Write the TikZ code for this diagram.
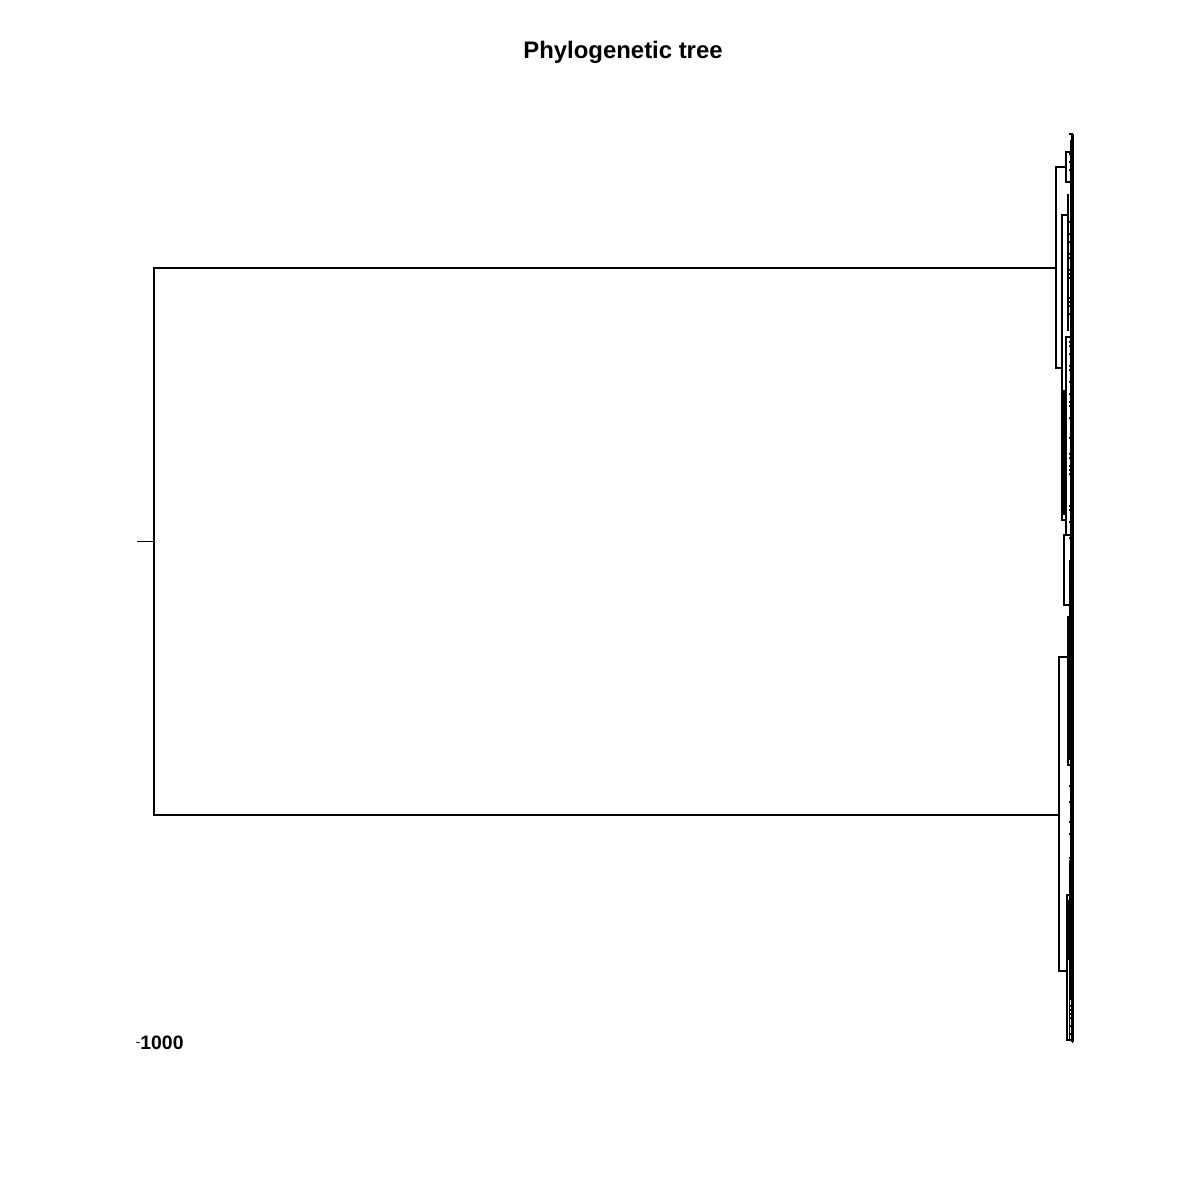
\documentclass[tikz,border=0pt]{standalone}
\usepackage{fontspec}
\setmainfont{Liberation Sans}
\begin{document}
\begin{tikzpicture}[x=0.5pt,y=-0.5pt,
  br/.style={line width=1pt,line cap=rect},
  lf/.style={line width=0.6pt},
  thinline/.style={line width=0.4pt}]
\useasboundingbox (0,0) rectangle (1200,1200);
\fill[white] (0,0) rectangle (1200,1200);
\node[font=\fontsize{11.95}{14}\selectfont\bfseries] (title) at (623,52) {Phylogenetic tree};
% root
\coordinate (stub) at (137,541);
\coordinate (root) at (154,541);
\coordinate (rtop) at (154,268);
\coordinate (rbot) at (154,815);
\coordinate (A) at (1056,268);
\coordinate (B) at (1059,815);
\draw[thinline] (stub) -- (root);
\draw[br] (rtop) -- (rbot);
\draw[br] (rtop) -- (A);
\draw[br] (rbot) -- (B);
% upper clade
\draw[br] (1056,167) -- (1056,368);
\draw[br] (1056,167) -- (1066,167);
\draw[br] (1066,152) -- (1066,182);
\draw[br] (1066,152) -- (1072,152);
\draw[br] (1066,182) -- (1071,182);
\draw[br] (1056,368) -- (1062,368);
\draw[br] (1062,215) -- (1062,520);
\draw[br] (1062,215) -- (1068,215);
\draw[br] (1068,195) -- (1068,330);
\draw[br] (1062,520) -- (1066,520);
\draw[br] (1066,337) -- (1066,535);
\draw[br] (1066,337) -- (1070,337);
\draw[br] (1066,535) -- (1064,535) -- (1064,605) -- (1073,605);
\draw[br] (1064,535) -- (1070,535);
\draw[line width=2pt] (1064,390) -- (1064,515);
% lower clade
\draw[br] (1059,657) -- (1059,971);
\draw[br] (1059,657) -- (1068,657);
\draw[br] (1068,617) -- (1068,765);
\draw[br] (1068,617) -- (1072,617);
\draw[br] (1068,765) -- (1071,765);
\draw[br] (1059,971) -- (1067,971);
\draw[br] (1067,895) -- (1067,1040);
\draw[br] (1067,895) -- (1071,895);
\draw[br] (1067,1040) -- (1072,1040);
\draw[line width=1.6pt] (1069,665) -- (1069,760);
\draw[line width=1.6pt] (1068,900) -- (1068,960);
% dense leaves
\pgfmathsetseed{7}
\draw[line width=1.3pt] (1072.5,134) -- (1072.5,1042);
\foreach \y in {134,138,...,1042}{
  \pgfmathsetmacro\dx{1+rnd*3.5}
  \draw[lf] (1073-\dx,\y) -- (1073,\y);
}
\foreach \a/\b in {140/300,230/420,300/590,560/700,640/860,780/1000,860/1040}{
  \pgfmathsetmacro\xx{1069.5+rnd*1.5}
  \draw[lf] (\xx,\a) -- (\xx,\b);
}
% scale
\coordinate (tick) at (136,1042);
\node[anchor=west,inner sep=0pt,font=\fontsize{9.7}{11}\selectfont\bfseries] (lab) at (140,1043) {1000};
\draw[thinline] (tick) -- (lab.west);
\end{tikzpicture}
\end{document}
